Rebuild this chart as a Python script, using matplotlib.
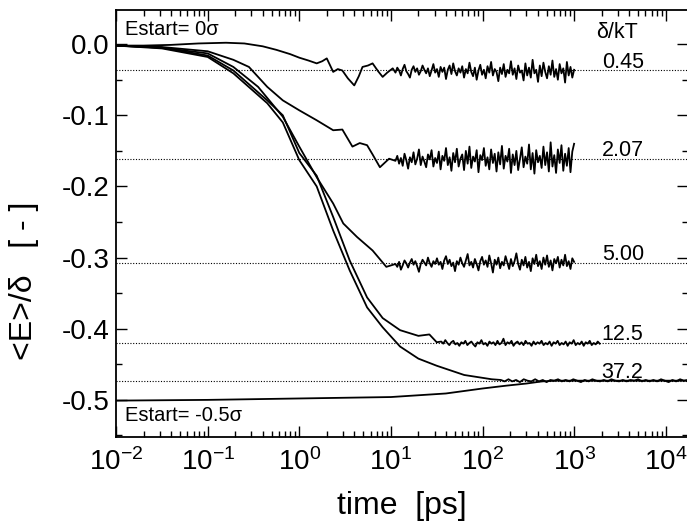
import numpy as np
import matplotlib
matplotlib.use('Agg')
from matplotlib import pyplot as plt
from matplotlib.ticker import FixedLocator, LogLocator, MultipleLocator, NullFormatter

plt.rcParams['font.family'] = ['Liberation Sans', 'DejaVu Sans']
plt.rcParams['mathtext.fontset'] = 'custom'
plt.rcParams['mathtext.rm'] = 'Liberation Sans'
plt.rcParams['mathtext.it'] = 'Liberation Sans'
plt.rcParams['axes.unicode_minus'] = False

# equilibrium levels (dotted) and their labels
levels = [-0.037, -0.161, -0.307, -0.420, -0.473]
level_labels = ['0.45', '2.07', '5.00', '12.5', '37.2']
x_ticks = [1e-2, 1e-1, 1e0, 1e1, 1e2, 1e3, 1e4]

# ---- delta/kT = 0.45 ----
lt_045 = [-2.0, -1.7, -1.4, -1.1, -0.8, -0.6, -0.4, -0.25, -0.1, 0.0, 0.1, 0.19,
          0.25, 0.30, 0.37, 0.42, 0.47, 0.53, 0.6, 0.65, 0.69, 0.75, 0.8, 0.86,
          0.91, 0.96, 1.02]
e_045 = [-0.002, -0.002, -0.001, 0.001, 0.002, 0.001, -0.003, -0.008, -0.014,
         -0.019, -0.023, -0.027, -0.024, -0.020, -0.039, -0.035, -0.037, -0.048,
         -0.058, -0.045, -0.032, -0.030, -0.027, -0.038, -0.046, -0.040, -0.034]
noise_045 = [-0.040, -0.033, -0.037, -0.044, -0.035, -0.029, -0.038, -0.042, -0.047, -0.036,
             -0.031, -0.039, -0.034, -0.043, -0.038, -0.030, -0.036, -0.041, -0.034, -0.045,
             -0.037, -0.028, -0.040, -0.035, -0.046, -0.032, -0.039, -0.033, -0.049, -0.036,
             -0.030, -0.042, -0.027, -0.038, -0.044, -0.034, -0.040, -0.031, -0.047, -0.035,
             -0.041, -0.026, -0.039, -0.045, -0.033, -0.050, -0.037, -0.029, -0.043, -0.036,
             -0.048, -0.031, -0.040, -0.025, -0.044, -0.035, -0.039, -0.052, -0.033, -0.042,
             -0.028, -0.046, -0.036, -0.041, -0.024, -0.043, -0.034, -0.049, -0.030, -0.040,
             -0.037, -0.051, -0.027, -0.044, -0.033, -0.047, -0.022, -0.041, -0.036, -0.053,
             -0.030, -0.045, -0.026, -0.039, -0.048, -0.031, -0.043, -0.023, -0.046, -0.035,
             -0.050, -0.028, -0.041, -0.034, -0.054, -0.025, -0.044, -0.032, -0.047, -0.036]

# ---- delta/kT = 2.07 ----
lt_207 = [-2.0, -1.5, -1.0, -0.72, -0.55, -0.35, -0.18, 0.0, 0.19, 0.37, 0.47,
          0.58, 0.66, 0.74, 0.8, 0.88, 0.98]
e_207 = [-0.002, -0.004, -0.010, -0.022, -0.032, -0.060, -0.079, -0.093, -0.107,
         -0.121, -0.120, -0.144, -0.139, -0.142, -0.155, -0.173, -0.161]
noise_207 = [-0.164, -0.157, -0.168, -0.160, -0.171, -0.154, -0.163, -0.175, -0.159, -0.166,
             -0.152, -0.169, -0.161, -0.148, -0.170, -0.158, -0.165, -0.173, -0.155, -0.162,
             -0.149, -0.172, -0.160, -0.167, -0.151, -0.176, -0.157, -0.164, -0.146, -0.170,
             -0.159, -0.178, -0.153, -0.166, -0.147, -0.172, -0.161, -0.155, -0.177, -0.150,
             -0.168, -0.144, -0.174, -0.158, -0.165, -0.149, -0.180, -0.156, -0.163, -0.146,
             -0.171, -0.159, -0.176, -0.148, -0.167, -0.154, -0.179, -0.152, -0.169, -0.143,
             -0.175, -0.157, -0.165, -0.147, -0.181, -0.155, -0.170, -0.150, -0.177, -0.161,
             -0.145, -0.173, -0.158, -0.168, -0.141, -0.176, -0.153, -0.182, -0.149, -0.166,
             -0.157, -0.174, -0.144, -0.170, -0.152, -0.179, -0.138, -0.172, -0.156, -0.181,
             -0.148, -0.167, -0.142, -0.178, -0.154, -0.171, -0.146, -0.180, -0.151, -0.140]

# ---- delta/kT = 5.00 ----
lt_500 = [-2.0, -1.5, -1.0, -0.72, -0.45, -0.18, 0.0, 0.19, 0.37, 0.48, 0.63, 0.8,
          0.95]
e_500 = [-0.002, -0.005, -0.013, -0.032, -0.060, -0.102, -0.144, -0.187, -0.224,
         -0.252, -0.271, -0.290, -0.313]
noise_500 = [-0.309, -0.313, -0.306, -0.317, -0.311, -0.304, -0.308, -0.314, -0.307, -0.302,
             -0.310, -0.305, -0.312, -0.320, -0.309, -0.303, -0.307, -0.311, -0.300, -0.308,
             -0.313, -0.305, -0.309, -0.301, -0.310, -0.306, -0.316, -0.304, -0.298, -0.309,
             -0.303, -0.312, -0.307, -0.319, -0.305, -0.310, -0.300, -0.308, -0.313, -0.304,
             -0.295, -0.311, -0.306, -0.314, -0.302, -0.309, -0.318, -0.305, -0.299, -0.310,
             -0.304, -0.313, -0.297, -0.308, -0.321, -0.303, -0.310, -0.300, -0.315, -0.306,
             -0.311, -0.298, -0.307, -0.316, -0.302, -0.312, -0.305, -0.294, -0.309, -0.317,
             -0.303, -0.311, -0.299, -0.314, -0.306, -0.319, -0.301, -0.309, -0.296, -0.312,
             -0.305, -0.316, -0.300, -0.310, -0.297, -0.313, -0.304, -0.318, -0.302, -0.308,
             -0.299, -0.314, -0.303, -0.311, -0.296, -0.312, -0.305, -0.316, -0.301, -0.306]

# ---- delta/kT = 12.5 ----
lt_125 = [-2.0, -1.5, -1.0, -0.72, -0.35, -0.18, 0.0, 0.19, 0.37, 0.55, 0.74, 0.91,
          1.1, 1.3, 1.42, 1.5]
e_125 = [-0.002, -0.005, -0.016, -0.037, -0.079, -0.100, -0.153, -0.185, -0.243,
         -0.304, -0.356, -0.385, -0.402, -0.410, -0.408, -0.419]
noise_125 = [-0.418, -0.421, -0.416, -0.420, -0.423, -0.419, -0.417, -0.422, -0.420, -0.424,
             -0.419, -0.421, -0.417, -0.423, -0.420, -0.418, -0.422, -0.425, -0.419, -0.421,
             -0.416, -0.422, -0.420, -0.424, -0.418, -0.421, -0.419, -0.423, -0.417, -0.422,
             -0.420, -0.414, -0.423, -0.419, -0.421, -0.417, -0.424, -0.420, -0.418, -0.422,
             -0.419, -0.423, -0.417, -0.421, -0.420, -0.424, -0.418, -0.422, -0.419, -0.421,
             -0.417, -0.423, -0.420, -0.422, -0.418, -0.424, -0.419, -0.421, -0.417, -0.423,
             -0.420, -0.422, -0.418, -0.424, -0.419, -0.421, -0.416, -0.423, -0.420, -0.422,
             -0.418, -0.424, -0.419, -0.421, -0.417, -0.423, -0.420, -0.422, -0.418, -0.421]

# ---- delta/kT = 37.2 ----
lt_372 = [-2.0, -1.5, -1.0, -0.72, -0.35, -0.18, 0.0, 0.19, 0.37, 0.55, 0.74, 0.91,
          1.1, 1.3, 1.5, 1.8, 2.1]
e_372 = [-0.002, -0.006, -0.018, -0.041, -0.083, -0.110, -0.163, -0.200, -0.262,
         -0.318, -0.370, -0.398, -0.425, -0.442, -0.452, -0.465, -0.471]
noise_372 = [-0.472, -0.474, -0.471, -0.474, -0.472, -0.475, -0.471, -0.473, -0.474, -0.471,
             -0.474, -0.472, -0.475, -0.472, -0.473, -0.471, -0.474, -0.472, -0.474, -0.471,
             -0.473, -0.475, -0.472, -0.474, -0.471, -0.473, -0.474, -0.472, -0.474, -0.471,
             -0.473, -0.474, -0.472, -0.474, -0.472, -0.473, -0.471, -0.474, -0.472, -0.474,
             -0.472, -0.474, -0.471, -0.473, -0.475, -0.472, -0.474, -0.471, -0.473, -0.472]

# ---- Estart = -0.5 sigma ----
lt_low = [-2.0, -1.0, 0.0, 1.0, 1.6, 2.0, 2.26, 2.48, 2.65, 2.8, 3.2, 3.6, 4.0, 4.24]
e_low = [-0.501, -0.500, -0.498, -0.496, -0.491, -0.484, -0.480, -0.477, -0.474,
         -0.473, -0.473, -0.473, -0.473, -0.473]

curves = [
    (lt_045, e_045, noise_045, 1.05, 3.0),
    (lt_207, e_207, noise_207, 1.05, 3.0),
    (lt_500, e_500, noise_500, 1.05, 3.0),
    (lt_125, e_125, noise_125, 1.55, 3.28),
    (lt_372, e_372, noise_372, 2.2, 4.24),
]

fig, ax = plt.subplots(figsize=(6.87, 5.27), dpi=100)
fig.subplots_adjust(left=0.169, right=1.001, top=0.981, bottom=0.171)

for lvl in levels:
    ax.axhline(lvl, color='black', linestyle=(0, (1, 1.5)), lw=0.8)

for lt, e, noise, a, b in curves:
    lt_noise = np.linspace(a, b, len(noise))
    x = 10 ** np.concatenate([lt, lt_noise])
    y = np.concatenate([e, noise])
    ax.plot(x, y, color='black', lw=1.3)

ax.plot(10 ** np.array(lt_low), e_low, color='black', lw=1.3)

for lvl, lab in zip(levels, level_labels):
    ax.text(2000, lvl + 0.004, lab, fontsize=15.5, ha='left', va='baseline')
ax.text(1760, 0.008, 'δ/kT', fontsize=15.5, ha='left', va='baseline')
ax.text(0.0125, 0.020, 'Estart= 0σ', fontsize=14.5, ha='left', va='center')
ax.text(0.0125, -0.522, 'Estart= -0.5σ', fontsize=14.5, ha='left', va='center')

ax.set_xscale('log')
ax.set_xlim(1e-2, 10 ** 4.24)
ax.set_ylim(-0.552, 0.048)
ax.xaxis.set_major_locator(FixedLocator(x_ticks))
ax.xaxis.set_minor_locator(LogLocator(base=10, subs=np.arange(2, 10), numticks=100))
ax.xaxis.set_minor_formatter(NullFormatter())
ax.yaxis.set_major_locator(FixedLocator([0.0, -0.1, -0.2, -0.3, -0.4, -0.5]))
ax.yaxis.set_minor_locator(MultipleLocator(0.05))
ax.yaxis.set_major_formatter(plt.FuncFormatter(lambda v, p: '%.1f' % v if abs(v) > 1e-9 else '0.0'))

ax.tick_params(which='both', direction='in', top=True, right=True, width=1.0)
ax.tick_params(which='major', length=8, labelsize=20)
ax.tick_params(which='minor', length=4)
ax.tick_params(axis='x', which='major', pad=8)
ax.tick_params(axis='y', which='major', pad=5)
for s in ax.spines.values():
    s.set_linewidth(1.3)

ax.set_xlabel('time  [ps]', fontsize=23, labelpad=11)
ax.set_ylabel('<E>/δ   [ - ]', fontsize=23)
ax.yaxis.set_label_coords(-0.135, 0.365)

fig.savefig('out.png', dpi=100)
